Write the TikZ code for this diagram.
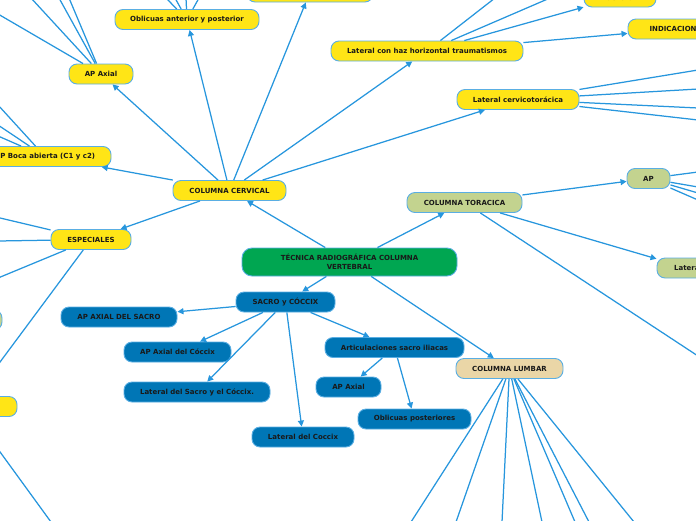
\documentclass[tikz,border=0pt]{standalone}
\usepackage{fontspec}
\setmainfont{DejaVu Sans}
\usetikzlibrary{arrows.meta}

\definecolor{linkblue}{HTML}{2796DD}
\definecolor{rimblue}{HTML}{5AAEE3}
\definecolor{cyellow}{HTML}{FFE516}
\definecolor{rootgreen}{HTML}{00A651}
\definecolor{tolive}{HTML}{C3D38F}
\definecolor{ltan}{HTML}{EAD6A7}
\definecolor{sblue}{HTML}{0076B6}

\begin{document}
\begin{tikzpicture}[
    x=1pt, y=-1pt,
    box/.style={draw=rimblue, line width=0.9pt, rounded corners=8pt, minimum height=20pt, inner sep=0pt,
      align=center, text=black!90, font=\fontsize{7}{9}\selectfont\bfseries},
    ybox/.style={box, fill=cyellow},
    obox/.style={box, fill=tolive},
    bbox/.style={box, fill=sblue},
    arr/.style={draw=linkblue, line width=1.25pt, -{Triangle[length=6pt, width=6pt]}},
    ln/.style={draw=linkblue, line width=1.25pt}
  ]
    \useasboundingbox (0,0) rectangle (696,520);
    \clip (0,0) rectangle (696,520);

    % root
    \node[box, fill=rootgreen, minimum width=215pt, minimum height=28pt, rounded corners=10pt] (root) at (349.5,262) {TÉCNICA RADIOGRÁFICA COLUMNA\\VERTEBRAL};

    % cervical branch
    \node[ybox, minimum width=113pt] (cerv) at (229.5,190.5) {COLUMNA CERVICAL};
    \node[ybox, minimum width=80pt] (esp) at (91,239.5) {ESPECIALES};
    \node[ybox, minimum width=132pt] (boca) at (45,156.5) {AP Boca abierta (C1 y c2)};
    \node[ybox, minimum width=64pt] (apax) at (101,74) {AP Axial};
    \node[ybox, minimum width=144pt] (obl) at (187,19.5) {Oblicuas anterior y posterior};
    \node[ybox, minimum width=126pt] (topn) at (310,-8) {};
    \node[ybox, minimum width=192pt] (lathaz) at (427,51) {Lateral con haz horizontal traumatismos};
    \node[ybox, minimum width=72pt] (pos) at (620,-3) {\raisebox{-2pt}{POSICIÓN}};
    \node[ybox, minimum width=100pt] (ind) at (678,29) {INDICACIONES};
    \node[ybox, minimum width=122pt] (latct) at (518,99.5) {Lateral cervicotorácica};
    \node[ybox, minimum width=100pt] (espleft) at (-33,406.5) {};
    \node[obox, minimum width=84pt] (greenleft) at (-40,320) {};

    % toracica branch
    \node[obox, minimum width=115pt] (tor) at (464.5,202.5) {COLUMNA TORACICA};
    \node[obox, minimum width=43pt] (apt) at (648.5,178.5) {AP};
    \node[obox, minimum width=62pt] (latt) at (688,268) {Lateral};

    % sacro branch
    \node[bbox, minimum width=99pt] (sacro) at (285.5,302) {SACRO y CÓCCIX};
    \node[bbox, minimum width=116pt] (apsac) at (119,317) {AP AXIAL DEL SACRO};
    \node[bbox, minimum width=107pt] (apcoc) at (177.5,352) {AP Axial del Cóccix};
    \node[bbox, minimum width=146pt] (latsac) at (197,392) {Lateral del Sacro y el Cóccix.};
    \node[bbox, minimum width=102pt] (latcoc) at (303,437) {Lateral del Coccix};
    \node[bbox, minimum width=139pt] (artic) at (394.5,347.5) {Articulaciones sacro iliacas};
    \node[bbox, minimum width=65pt] (apart) at (348.5,387) {AP Axial};
    \node[bbox, minimum width=113pt] (oblpost) at (414.5,419) {Oblicuas posteriores};

    % lumbar
    \node[box, fill=ltan, minimum width=107pt] (lumb) at (509.5,368.5) {COLUMNA LUMBAR};

    % free ends past the border
    \coordinate (e1) at (-2,217.5);
    \coordinate (e2) at (-2,241);
    \coordinate (e3) at (-2,278);
    \coordinate (b1) at (-2,105);
    \coordinate (b2) at (-2,125);
    \coordinate (b3) at (-2,136);
    \coordinate (a1) at (-2,14);
    \coordinate (a2) at (31,-2);
    \coordinate (a3) at (59,-2);
    \coordinate (a4) at (69,-2);
    \coordinate (o1) at (166,-2);
    \coordinate (o2) at (175,-2);
    \coordinate (o3) at (186,-2);
    \coordinate (o4) at (199,-2);
    \coordinate (h1) at (495,-2);
    \coordinate (h2) at (550,-2);
    \coordinate (c1) at (698,70);
    \coordinate (c2) at (698,89);
    \coordinate (c3) at (698,108);
    \coordinate (c4) at (698,120);
    \coordinate (t1) at (698,356);
    \coordinate (p1) at (698,172);
    \coordinate (p2) at (698,187);
    \coordinate (p3) at (698,193);
    \coordinate (p4) at (698,200);
    \coordinate (l1) at (411,522);
    \coordinate (l2) at (456,522);
    \coordinate (l3) at (502,522);
    \coordinate (l4) at (542,522);
    \coordinate (l5) at (575,522);
    \coordinate (l6) at (589,522);
    \coordinate (l7) at (634,522);
    \coordinate (s1) at (51,522);

    % connectors
    \draw[arr] (root) -- (cerv);
    \draw[arr] (root) -- (tor);
    \draw[arr] (root) -- (sacro);
    \draw[arr] (root) -- (lumb);

    \draw[arr] (cerv) -- (boca);
    \draw[arr] (cerv) -- (esp);
    \draw[arr] (cerv) -- (apax);
    \draw[arr] (cerv) -- (obl);
    \draw[arr] (cerv) -- (topn);
    \draw[arr] (cerv) -- (lathaz);
    \draw[arr] (cerv) -- (latct);

    \foreach \e in {e1,e2,e3} \draw[ln] (esp) -- (\e);
    \draw[arr] (esp) -- (espleft);
    \draw[ln] (espleft) -- (s1);
    \foreach \e in {b1,b2,b3} \draw[ln] (boca) -- (\e);
    \foreach \e in {a1,a2,a3,a4} \draw[ln] (apax) -- (\e);
    \foreach \e in {o1,o2,o3,o4} \draw[ln] (obl) -- (\e);
    \foreach \e in {h1,h2} \draw[ln] (lathaz) -- (\e);
    \draw[arr] (lathaz) -- (pos);
    \draw[arr] (lathaz) -- (ind);
    \foreach \e in {c1,c2,c3,c4} \draw[ln] (latct) -- (\e);

    \draw[arr] (tor) -- (apt);
    \draw[arr] (tor) -- (latt);
    \draw[ln] (tor) -- (t1);
    \foreach \e in {p1,p2,p3,p4} \draw[ln] (apt) -- (\e);

    \draw[arr] (sacro) -- (apsac);
    \draw[arr] (sacro) -- (apcoc);
    \draw[arr] (sacro) -- (latsac);
    \draw[arr] (sacro) -- (latcoc);
    \draw[arr] (sacro) -- (artic);
    \draw[arr] (artic) -- (apart);
    \draw[arr] (artic) -- (oblpost);

    \foreach \e in {l1,l2,l3,l4,l5,l6,l7} \draw[ln] (lumb) -- (\e);
  \end{tikzpicture}
\end{document}
